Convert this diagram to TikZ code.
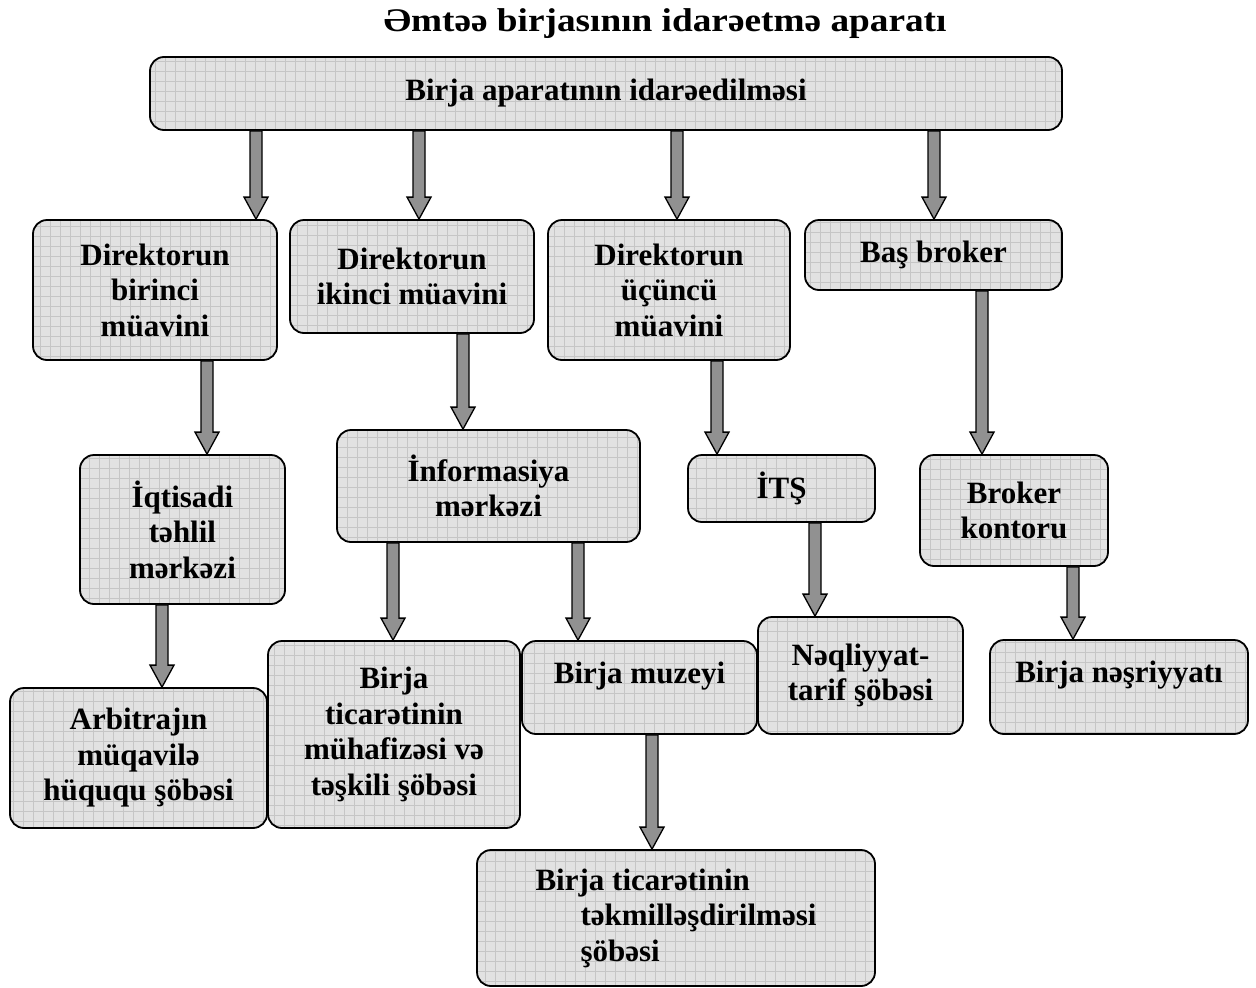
\documentclass[tikz,border=0pt]{standalone}
\usepackage{fontspec}
\setmainfont{Liberation Serif}
\usetikzlibrary{calc}
\definecolor{boxfill}{RGB}{226,226,226}
\definecolor{gridline}{RGB}{198,198,198}
\definecolor{arrowfill}{RGB}{145,145,145}
\tikzset{
  unit/.style={draw=black, line width=1.8pt, rounded corners=14pt, fill=boxfill,
    align=center, inner sep=4pt,
    font=\fontsize{31}{35.5}\selectfont\bfseries,
    path picture={\draw[gridline, line width=0.6pt]
      (path picture bounding box.south west) grid[step=10pt]
      (path picture bounding box.north east);}},
  blk/.style={draw=black, line width=1.3pt, fill=arrowfill, line join=miter,
    to path={let \p1=(\tikztostart), \p2=(\tikztotarget) in
      (\x1-6pt,\y1) -- (\x1-6pt,\y2+22pt) -- (\x1-12pt,\y2+22pt) -- (\x1,\y2)
      -- (\x1+12pt,\y2+22pt) -- (\x1+6pt,\y2+22pt) -- (\x1+6pt,\y1) -- cycle}}
}
\begin{document}
\begin{tikzpicture}[x=1pt,y=-1pt]
\useasboundingbox (0,0) rectangle (1256,988);

\node[font=\fontsize{33}{38}\selectfont\bfseries, xscale=1.13] (title) at (665,24)
  {Əmtəə birjasının idarəetmə aparatı};

% boxes
\node[unit, minimum width=912pt, minimum height=73pt] (top) at (606,93.5)
  {Birja aparatının idarəedilməsi};
\node[unit, minimum width=244pt, minimum height=140pt] (d1) at (155,290)
  {Direktorun\\birinci\\müavini};
\node[unit, minimum width=244pt, minimum height=113pt] (d2) at (412,276.5)
  {Direktorun\\ikinci müavini};
\node[unit, minimum width=242pt, minimum height=140pt] (d3) at (669,290)
  {Direktorun\\üçüncü\\müavini};
\node[unit, minimum width=257pt, minimum height=70pt] (bas) at (933.5,255)
  {Baş broker};
\node[unit, minimum width=205pt, minimum height=149pt] (iqt) at (182.5,529.5)
  {İqtisadi\\təhlil\\mərkəzi};
\node[unit, minimum width=303pt, minimum height=112pt] (inf) at (488.5,486)
  {İnformasiya\\mərkəzi};
\node[unit, minimum width=187pt, minimum height=67pt] (its) at (781.5,488.5)
  {İTŞ};
\node[unit, minimum width=188pt, minimum height=111pt] (bk) at (1014,510.5)
  {Broker\\kontoru};
\node[unit, minimum width=257pt, minimum height=140pt] (arb) at (138.5,758)
  {Arbitrajın\\müqavilə\\hüququ şöbəsi};
\node[unit, minimum width=252pt, minimum height=187pt] (muh) at (394,734.5)
  {Birja\\ticarətinin\\mühafizəsi və\\təşkili şöbəsi};
\node[unit, minimum width=235pt, minimum height=93pt, text depth=30pt] (muz) at (639.5,687.5)
  {Birja muzeyi};
\node[unit, minimum width=205pt, minimum height=117pt] (naq) at (860.5,675.5)
  {Nəqliyyat-\\tarif şöbəsi};
\node[unit, minimum width=258pt, minimum height=94pt, text depth=30pt] (nes) at (1119,687)
  {Birja nəşriyyatı};
\node[unit, minimum width=398pt, minimum height=136pt, align=left] (tek) at (676,918)
  {Birja ticarətinin\\\hspace*{45pt}təkmilləşdirilməsi\\\hspace*{45pt}şöbəsi};

% columns of the connectors
\coordinate (c1) at (256,0);
\coordinate (c2) at (419,0);
\coordinate (c3) at (677,0);
\coordinate (c4) at (934,0);
\coordinate (c5) at (207,0);
\coordinate (c6) at (463,0);
\coordinate (c7) at (717,0);
\coordinate (c8) at (982,0);
\coordinate (c9) at (162,0);
\coordinate (c10) at (393,0);
\coordinate (c11) at (578,0);
\coordinate (c12) at (815,0);
\coordinate (c13) at (1073,0);
\coordinate (c14) at (652,0);

% connectors
\draw[blk] (top.south -| c1) to (d1.north -| c1);
\draw[blk] (top.south -| c2) to (d2.north -| c2);
\draw[blk] (top.south -| c3) to (d3.north -| c3);
\draw[blk] (top.south -| c4) to (bas.north -| c4);
\draw[blk] (d1.south -| c5) to (iqt.north -| c5);
\draw[blk] (d2.south -| c6) to (inf.north -| c6);
\draw[blk] (d3.south -| c7) to (its.north -| c7);
\draw[blk] (bas.south -| c8) to (bk.north -| c8);
\draw[blk] (iqt.south -| c9) to (arb.north -| c9);
\draw[blk] (inf.south -| c10) to (muh.north -| c10);
\draw[blk] (inf.south -| c11) to (muz.north -| c11);
\draw[blk] (its.south -| c12) to (naq.north -| c12);
\draw[blk] (bk.south -| c13) to (nes.north -| c13);
\draw[blk] (muz.south -| c14) to (tek.north -| c14);
\end{tikzpicture}
\end{document}
